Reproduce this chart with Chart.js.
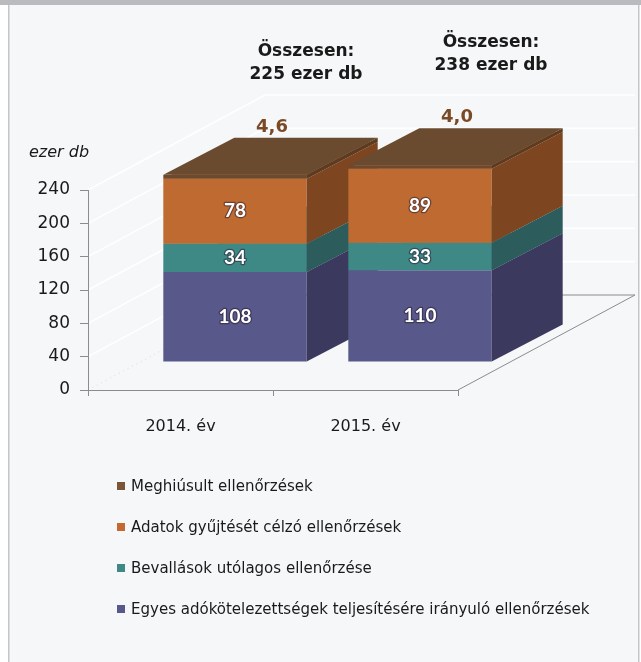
<!DOCTYPE html>
<html><head><meta charset="utf-8">
<script src="https://cdn.jsdelivr.net/npm/chart.js@4.4.1/dist/chart.umd.min.js"></script>
<style>html,body{margin:0;padding:0;background:#fff;}#wrap{width:641px;height:662px;position:relative;}canvas{display:block;}</style>
</head><body><div id="wrap"><canvas id="c" width="641" height="662"></canvas></div>
<script>
// ---- data ----
const categories = ['2014. év', '2015. év'];
const seriesNames = [
  'Egyes adókötelezettségek teljesítésére irányuló ellenőrzések',
  'Bevallások utólagos ellenőrzése',
  'Adatok gyűjtését célzó ellenőrzések',
  'Meghiúsult ellenőrzések'
];
const egyesValues = [108, 110];
const bevallasValues = [34, 33];
const adatokValues = [78, 89];
const meghiusultValues = [4.6, 4.0];
const totalLabels = ['225 ezer db', '238 ezer db'];
const totalTitle = 'Összesen:';
const yTickValues = [0, 40, 80, 120, 160, 200, 240];
const yUnit = 'ezer db';

// ---- styles ----
const frontColors = ['#58588a', '#3e8886', '#be6a31', '#6c4a30'];
const sideColors  = ['#3b3a5e', '#2c5c5c', '#7d4620', '#5b3b22'];
const topColors   = ['#6a6a9c', '#4f9a98', '#c97b45', '#6b4b30'];
const legendColors = ['#58588a', '#3e8886', '#c46a30', '#7b5538'];
const FRONT = {dx: 54.5, dy: -28};
const DEPTH = {dx: 71, dy: -37};
const WALL = {dx: 177, dy: -95};
const GRAY = '#8c8c8c';

function poly(ctx, pts, fill){
  ctx.beginPath(); ctx.moveTo(pts[0][0], pts[0][1]);
  for (let i=1;i<pts.length;i++) ctx.lineTo(pts[i][0], pts[i][1]);
  ctx.closePath(); ctx.fillStyle = fill; ctx.fill();
}

const threeD = {
  id: 'threeD',
  beforeDraw(chart){
    const ctx = chart.ctx, ca = chart.chartArea, ys = chart.scales.y;
    ctx.save();
    ctx.fillStyle = '#ffffff'; ctx.fillRect(0,0,chart.width,chart.height);
    ctx.fillStyle = '#f5f7f8'; ctx.fillRect(9,0,630,chart.height);
    ctx.fillStyle = '#b9bbbe'; ctx.fillRect(0,0,chart.width,5);
    ctx.fillStyle = '#c4c6c8'; ctx.fillRect(8,5,1.5,chart.height-5); ctx.fillRect(638,5,1.5,chart.height-5);
    // wall gridlines
    ctx.strokeStyle = '#ffffff'; ctx.lineWidth = 1.6;
    yTickValues.forEach(v => {
      if (v === 0) return;
      const y = ys.getPixelForValue(v);
      ctx.beginPath(); ctx.moveTo(ca.left, y); ctx.lineTo(ca.left+WALL.dx, y+WALL.dy);
      ctx.lineTo(ca.right+WALL.dx, y+WALL.dy); ctx.stroke();
    });
    // floor edges
    ctx.lineWidth = 1;
    ctx.strokeStyle = GRAY;
    ctx.beginPath(); ctx.moveTo(ca.right, ca.bottom); ctx.lineTo(ca.right+WALL.dx, ca.bottom+WALL.dy);
    ctx.lineTo(ca.left+WALL.dx, ca.bottom+WALL.dy); ctx.stroke();
    ctx.strokeStyle = '#d8dadc'; ctx.setLineDash([1,4]);
    ctx.beginPath(); ctx.moveTo(ca.left, ca.bottom); ctx.lineTo(ca.left+WALL.dx, ca.bottom+WALL.dy); ctx.stroke();
    ctx.restore();
  },
  beforeDatasetsDraw(chart){
    const ctx = chart.ctx;
    const n = chart.data.labels.length;
    ctx.save();
    for (let i=0;i<n;i++){
      const boxes = [];
      chart.data.datasets.forEach((ds, d) => {
        const el = chart.getDatasetMeta(d).data[i];
        const p = el.getProps(['x','y','base','width'], true);
        const L = p.x - p.width/2 + FRONT.dx, R = p.x + p.width/2 + FRONT.dx;
        const T = p.y + FRONT.dy, B = p.base + FRONT.dy;
        ctx.fillStyle = frontColors[d]; ctx.fillRect(L, T, R-L, B-T);
        poly(ctx, [[R,T],[R+DEPTH.dx,T+DEPTH.dy],[R+DEPTH.dx,B+DEPTH.dy],[R,B]], sideColors[d]);
        poly(ctx, [[L,T],[R,T],[R+DEPTH.dx,T+DEPTH.dy],[L+DEPTH.dx,T+DEPTH.dy]], topColors[d]);
        boxes.push({L,R,T,B});
      });
      // labels on front faces (first three series)
      ctx.font = 'bold 19px Lato, "DejaVu Sans", sans-serif';
      ctx.textAlign = 'center'; ctx.textBaseline = 'middle';
      for (let d=0; d<3; d++){
        const b = boxes[d];
        const v = chart.data.datasets[d].data[i];
        const cx = (b.L+b.R)/2, cy = (b.T+b.B)/2;
        ctx.lineWidth = 2.5; ctx.strokeStyle = 'rgba(40,30,50,0.55)'; ctx.lineJoin='round';
        ctx.strokeText(String(v), cx, cy);
        ctx.fillStyle = '#ffffff'; ctx.fillText(String(v), cx, cy);
      }
      // top series value label
      const top = boxes[3];
      const tv = chart.data.datasets[3].data[i];
      const fcx = (top.L+top.R)/2;
      const backY = top.T + DEPTH.dy;
      ctx.font = 'bold 18px "DejaVu Sans", sans-serif';
      ctx.fillStyle = '#7a4a26';
      ctx.fillText(tv.toFixed(1).replace('.', ','), fcx + 37, backY - 11);
      // totals
      ctx.fillStyle = '#1a1a1a';
      ctx.font = 'bold 17px "DejaVu Sans", sans-serif';
      ctx.fillText(totalTitle, fcx + 71, backY - 86);
      ctx.fillText(totalLabels[i], fcx + 71, backY - 63);
    }
    ctx.restore();
    return false;
  },
  afterDraw(chart){
    const ctx = chart.ctx;
    ctx.save();
    // unit label
    ctx.font = 'italic 16px "DejaVu Sans", sans-serif';
    ctx.fillStyle = '#1a1a1a'; ctx.textAlign = 'left'; ctx.textBaseline = 'middle';
    ctx.fillText(yUnit, 29, 153);
    // legend (reverse order)
    ctx.font = '16.7px "Liberation Sans Narrow", "DejaVu Sans Condensed", sans-serif';
    ctx.textBaseline = 'middle';
    const rows = [3,2,1,0];
    rows.forEach((d, k) => {
      const cy = 486 + k*41;
      ctx.fillStyle = legendColors[d];
      ctx.fillRect(117, cy-4, 8, 8);
      ctx.fillStyle = '#1a1a1a';
      ctx.fillText(chart.data.datasets[d].label, 131, cy+1);
    });
    ctx.restore();
  }
};

new Chart(document.getElementById('c'), {
  type: 'bar',
  data: {
    labels: categories,
    datasets: [
      {label: seriesNames[0], data: egyesValues, backgroundColor: frontColors[0]},
      {label: seriesNames[1], data: bevallasValues, backgroundColor: frontColors[1]},
      {label: seriesNames[2], data: adatokValues, backgroundColor: frontColors[2]},
      {label: seriesNames[3], data: meghiusultValues, backgroundColor: frontColors[3]}
    ]
  },
  options: {
    responsive: false, animation: false, devicePixelRatio: 1,
    layout: {padding: {left: 0, right: 183, top: 190, bottom: 212}},
    datasets: {bar: {categoryPercentage: 1, barPercentage: 0.775}},
    plugins: {legend: {display: false}, tooltip: {enabled: false}},
    scales: {
      x: {
        stacked: true,
        grid: {offset: true, drawOnChartArea: false, tickLength: 6, color: GRAY},
        border: {color: GRAY},
        ticks: {color: '#1a1a1a', font: {family: '"DejaVu Sans", sans-serif', size: 16}, padding: 21},
        afterFit(s){ s.height = 60; }
      },
      y: {
        stacked: true, min: 0, max: 240,
        afterBuildTicks(s){ s.ticks = yTickValues.map(v => ({value: v})); },
        grid: {drawOnChartArea: false, tickLength: 8, color: GRAY},
        border: {color: GRAY},
        ticks: {color: '#1a1a1a', font: {family: '"DejaVu Sans", sans-serif', size: 17}, padding: 10},
        afterFit(s){ s.width = 88; }
      }
    }
  },
  plugins: [threeD]
});
</script></body></html>
